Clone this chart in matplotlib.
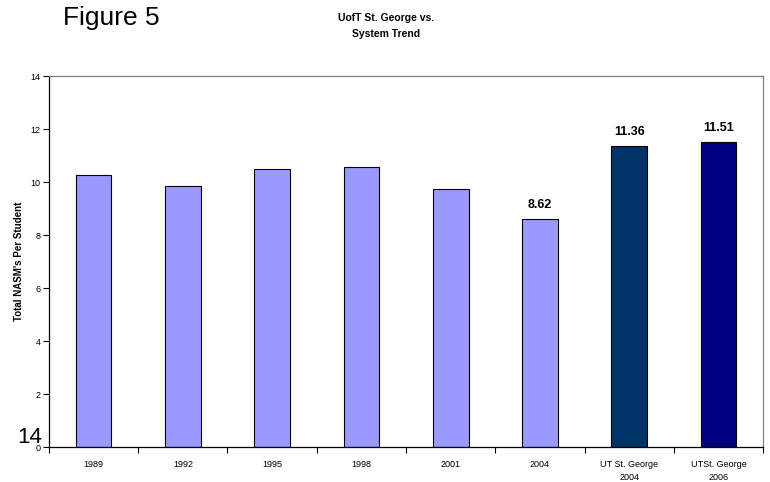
import numpy as np
import matplotlib.pyplot as plt

# data
categories = ['1989', '1992', '1995', '1998', '2001', '2004',
              'UT St. George\n2004', 'UTSt. George\n2006']
values = [10.25, 9.84, 10.48, 10.58, 9.74, 8.62, 11.36, 11.51]
bar_colors = ['#9999FF'] * 6 + ['#003366', '#000080']
labelled = [5, 6, 7]

plt.rcParams['font.family'] = ['Liberation Sans', 'DejaVu Sans']

fig = plt.figure(figsize=(7.7, 4.82), dpi=100)
ax = fig.add_axes([0.0636, 0.0726, 0.9274, 0.7694])

x = np.arange(len(categories))
bars = ax.bar(x, values, width=0.40, color=bar_colors, edgecolor='black', linewidth=0.8)

for i in labelled:
    ax.text(x[i], values[i] + 0.3, f'{values[i]:.2f}', ha='center', va='bottom',
            fontsize=9, fontweight='bold')

ax.set_xlim(-0.5, len(categories) - 0.5)
ax.set_ylim(0, 14)
ax.set_yticks(np.arange(0, 15, 2))
ax.tick_params(axis='y', labelsize=6.5, length=4, width=0.8, direction='out', pad=2)

# category labels centred, tick marks on the boundaries
ax.set_xticks(x)
ax.set_xticklabels(categories, fontsize=6.5, linespacing=1.6)
ax.tick_params(axis='x', which='major', length=0, pad=9)
ax.set_xticks(np.arange(-0.5, len(categories)), minor=True)
ax.tick_params(axis='x', which='minor', length=4, width=0.8, direction='out')

for side in ['left', 'bottom']:
    ax.spines[side].set_color('black')
    ax.spines[side].set_linewidth(0.9)
for side in ['top', 'right']:
    ax.spines[side].set_color('#808080')
    ax.spines[side].set_linewidth(0.9)

ax.set_ylabel("Total NASM's Per Student", fontsize=7, fontweight='bold', labelpad=5)

fig.text(0.082, 0.962, 'Figure 5', fontsize=19, ha='left', va='center')
fig.text(0.502, 0.946, 'UofT St. George vs.\nSystem Trend', fontsize=7.5,
         fontweight='bold', ha='center', va='center', linespacing=1.85)
fig.text(0.022, 0.092, '14', fontsize=16, ha='left', va='center')

fig.savefig('out.png', dpi=100)
